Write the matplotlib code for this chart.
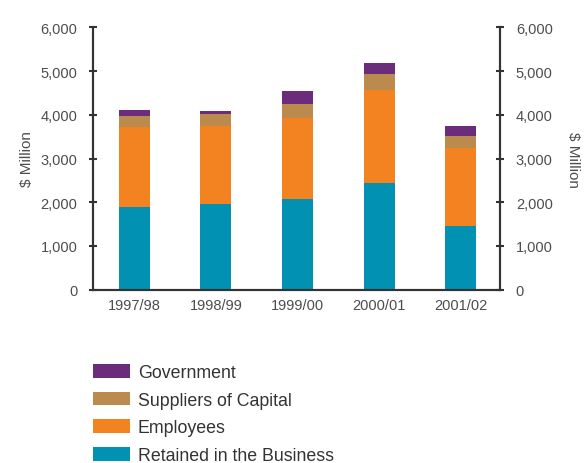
import numpy as np
import matplotlib.pyplot as plt

plt.rcParams['font.family'] = ['Liberation Sans', 'DejaVu Sans']

# Data ($ million)
years = ['1997/98', '1998/99', '1999/00', '2000/01', '2001/02']
retained = [1890, 1960, 2075, 2450, 1460]
employees = [1830, 1785, 1855, 2105, 1770]
suppliers = [250, 275, 320, 380, 275]
government = [140, 70, 300, 250, 230]

series = [
    ('Retained in the Business', retained, '#0091b3'),
    ('Employees', employees, '#f38321'),
    ('Suppliers of Capital', suppliers, '#ba8b4c'),
    ('Government', government, '#6b2c7c'),
]

text_col = '#4d4d4d'
fig = plt.figure(figsize=(5.84, 4.64), dpi=100)
ax = fig.add_axes([0.159, 0.3735, 0.698, 0.5655])
ax2 = ax.twinx()

x = np.arange(len(years))
bottom = np.zeros(len(years))
handles = []
for name, vals, col in series:
    b = ax.bar(x, vals, width=0.38, bottom=bottom, color=col, label=name)
    handles.append(b)
    bottom += np.array(vals)

ax.set_xlim(-0.51, 4.49)
ticks = np.arange(0, 6001, 1000)
labels = [f'{t:,}' for t in ticks]
for a in (ax, ax2):
    a.set_ylim(0, 6000)
    a.set_yticks(ticks)
    a.set_yticklabels(labels)
    a.spines['top'].set_visible(False)
    for s in ['left', 'right', 'bottom']:
        a.spines[s].set_color('#333333')
        a.spines[s].set_linewidth(1.5)
    a.tick_params(axis='y', direction='inout', length=6, width=1.5, color='#333333',
                  labelsize=10.5, labelcolor=text_col, pad=8)
ax.set_xticks(x)
ax.set_xticklabels(years)
ax.tick_params(axis='x', length=0, labelsize=10.5, labelcolor=text_col, pad=6)

ax.set_ylabel('$ Million', fontsize=11, color=text_col, labelpad=5)
ax2.set_ylabel('$ Million', fontsize=11, color=text_col, rotation=270, labelpad=20)

fig.legend(handles[::-1], [s[0] for s in series][::-1], loc='upper left',
           bbox_to_anchor=(0.159, 0.214), frameon=False, fontsize=12.8,
           handlelength=2.1, handleheight=0.83, handletextpad=0.42,
           labelspacing=0.6, borderpad=0, borderaxespad=0, labelcolor='#333333')

fig.savefig('out.png', dpi=100)
